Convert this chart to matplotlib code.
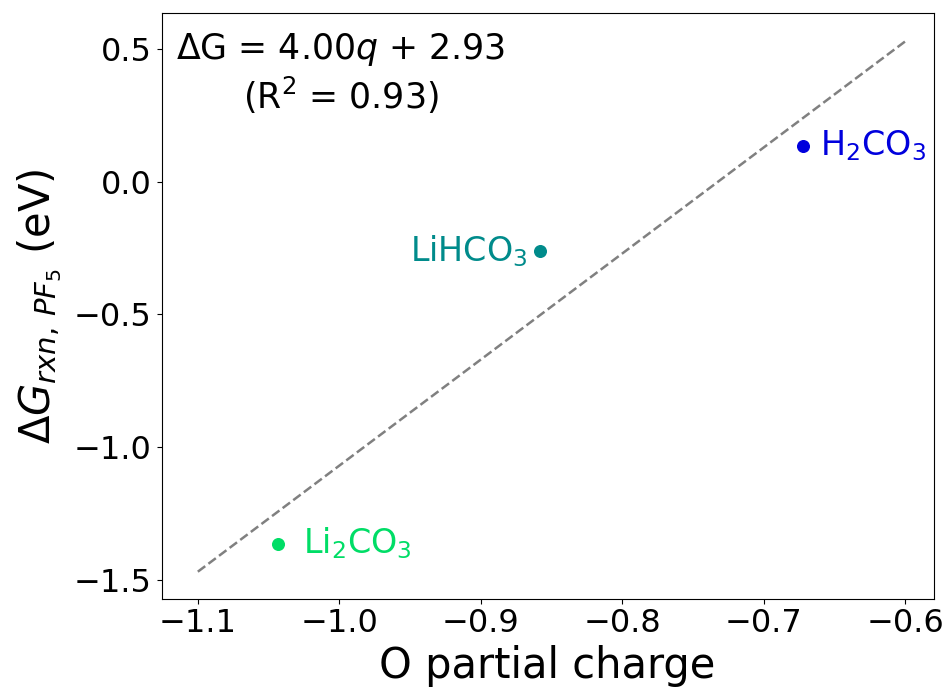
import numpy as np
import matplotlib
matplotlib.use("Agg")
import matplotlib.pyplot as plt

# Данные
names = ["Li$_2$CO$_3$", "LiHCO$_3$", "H$_2$CO$_3$"]
charges = [-1.043, -0.858, -0.672]
dG = [-1.364, -0.261, 0.135]
colors = ["#00dd66", "#008b8b", "#0000dd"]
slope, intercept, r2 = 4.00, 2.93, 0.93
fit_x = [-1.1, -0.6]

fig, ax = plt.subplots(figsize=(9.45, 6.93), dpi=100)

fit_y = [slope * q + intercept for q in fit_x]
ax.plot(fit_x, fit_y, "--", color="gray", lw=1.8)

offsets = [(18, 0, "left"), (-9, 0, "right"), (12, 0, "left")]
for name, q, g, c, (dx, dy, ha) in zip(names, charges, dG, colors, offsets):
    ax.scatter(q, g, color=c, s=70, zorder=3)
    ax.annotate(name, (q, g), xytext=(dx, dy), textcoords="offset points",
                ha=ha, va="center", color=c, fontsize=24)

ax.text(0.232, 0.97, f"ΔG = {slope:.2f}$q$ + {intercept:.2f}\n(R$^2$ = {r2:.2f})",
        transform=ax.transAxes, ha="center", va="top", multialignment="center",
        fontsize=25)

ax.set_xlim(-1.1256, -0.58)
ax.set_ylim(-1.572, 0.636)
ax.set_xticks([-1.1, -1.0, -0.9, -0.8, -0.7, -0.6])
ax.set_yticks([-1.5, -1.0, -0.5, 0.0, 0.5])
ax.tick_params(labelsize=23)
ax.set_xlabel("O partial charge", fontsize=30)
ax.set_ylabel(r"$\Delta G_{rxn,\,PF_5}$ (eV)", fontsize=30, labelpad=7)

plt.subplots_adjust(left=0.171, right=0.988, top=0.981, bottom=0.136)
plt.savefig("out.png")
